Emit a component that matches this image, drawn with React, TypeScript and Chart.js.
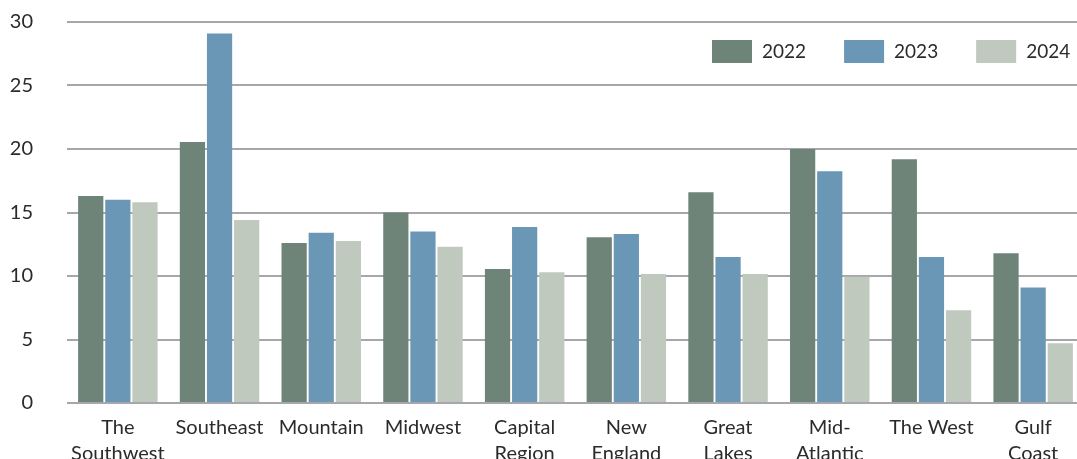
import React, { useEffect, useRef } from "react";
import { Chart, registerables } from "chart.js";

Chart.register(...registerables);

const regions: (string | string[])[] = [
  ["The", "Southwest"],
  "Southeast",
  "Mountain",
  "Midwest",
  ["Capital", "Region"],
  ["New", "England"],
  ["Great", "Lakes"],
  ["Mid-", "Atlantic"],
  "The West",
  ["Gulf", "Coast"],
];

const years = ["2022", "2023", "2024"];
const values2022 = [16.3, 20.55, 12.6, 15.0, 10.55, 13.05, 16.6, 20.0, 19.2, 11.8];
const values2023 = [16.0, 29.1, 13.4, 13.5, 13.85, 13.3, 11.5, 18.25, 11.5, 9.1];
const values2024 = [15.8, 14.4, 12.75, 12.3, 10.3, 10.15, 10.15, 9.95, 7.3, 4.7];
const yTicks = [0, 5, 10, 15, 20, 25, 30];

const colors = ["#6e8479", "#6a97b6", "#bfc9bd"];
const FONT = "Lato, 'Open Sans', sans-serif";
const TEXT = "#2b2b2b";
const GRID = "#a7a6aa";

const W = 1090;
const H = 494;
const SHIFT = 24;
const AXIS_BOTTOM = 403 + SHIFT;

// Legend drawn inside the plot area, top right
const insideLegend = {
  id: "insideLegend",
  afterDraw(chart: any) {
    const ctx = chart.ctx;
    ctx.save();
    ctx.font = `19px ${FONT}`;
    ctx.textBaseline = "middle";
    let x = 712;
    const y = 40 + SHIFT;
    chart.data.datasets.forEach((ds: any) => {
      ctx.fillStyle = ds.backgroundColor;
      ctx.fillRect(x, y, 40, 23);
      ctx.fillStyle = TEXT;
      ctx.fillText(ds.label, x + 50, y + 12);
      x += 50 + ctx.measureText(ds.label).width + 38;
    });
    ctx.restore();
  },
};

export default function App() {
  const ref = useRef<HTMLCanvasElement>(null);

  useEffect(() => {
    if (!ref.current) return;
    const series = [values2022, values2023, values2024];
    const chart = new Chart(ref.current, {
      type: "bar",
      data: {
        labels: regions,
        datasets: years.map((y, i) => ({
          label: y,
          data: series[i],
          backgroundColor: colors[i],
          borderWidth: 0,
          barPercentage: 0.93,
          categoryPercentage: 0.8,
        })),
      },
      options: {
        animation: false,
        responsive: false,
        maintainAspectRatio: false,
        layout: { padding: { top: 0, right: 6, left: 0, bottom: 0 } },
        plugins: {
          legend: { display: false },
          tooltip: { enabled: false },
        },
        scales: {
          x: {
            grid: { display: false },
            border: { display: false },
            ticks: {
              color: TEXT,
              font: { family: FONT, size: 20, lineHeight: 1.3 },
              padding: 4,
              maxRotation: 0,
              autoSkip: false,
            },
            afterFit(scale: any) {
              scale.height = H - AXIS_BOTTOM;
            },
          },
          y: {
            min: 0,
            max: 30,
            afterBuildTicks(scale: any) {
              scale.ticks = yTicks.map((v) => ({ value: v }));
            },
            grid: { color: GRID, lineWidth: 2, drawTicks: false },
            border: { display: false },
            ticks: {
              color: TEXT,
              font: { family: FONT, size: 20 },
              padding: 34,
            },
            afterFit(scale: any) {
              scale.width = 67;
            },
          },
        },
      },
      plugins: [insideLegend],
    });
    return () => chart.destroy();
  }, []);

  return (
    <div
      style={{
        position: "fixed",
        left: 0,
        top: 0,
        width: 1077,
        height: 459,
        overflow: "hidden",
        background: "#fff",
      }}
    >
      <canvas
        ref={ref}
        width={W}
        height={H}
        style={{ width: W, height: H, display: "block", marginTop: -SHIFT }}
      />
    </div>
  );
}
